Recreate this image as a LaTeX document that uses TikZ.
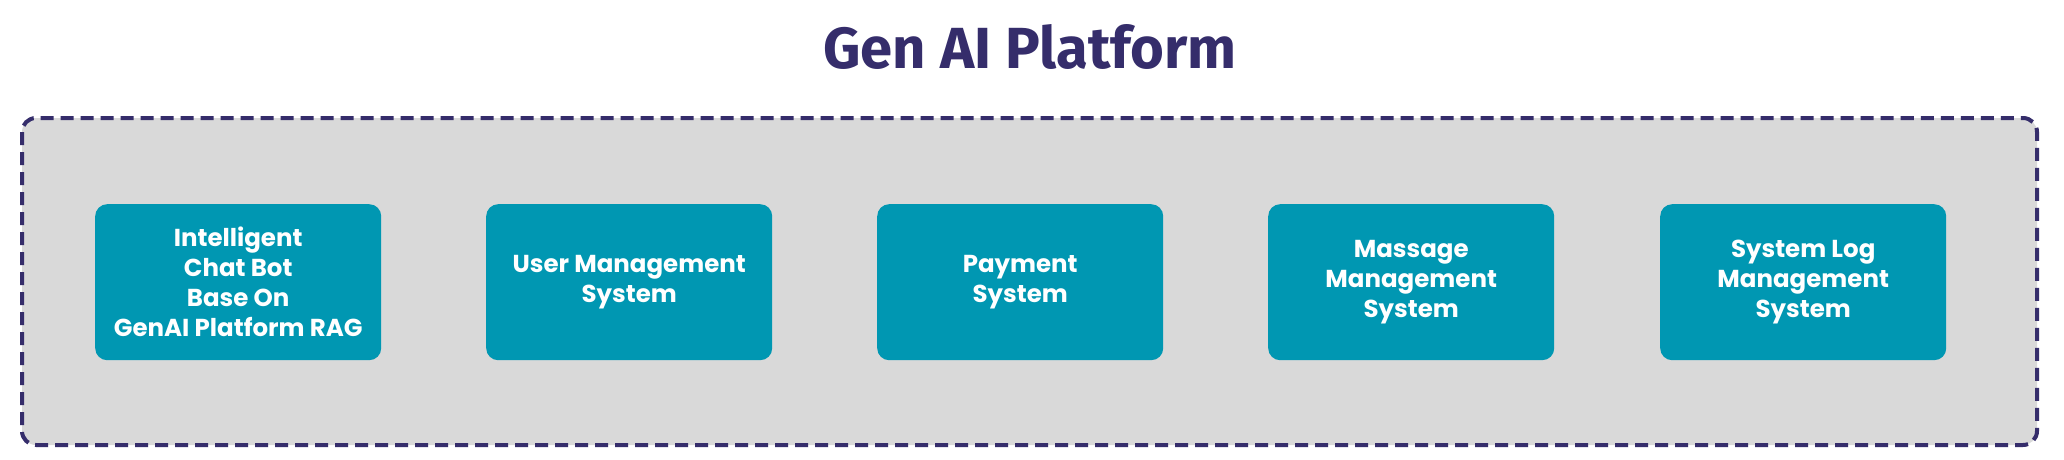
\documentclass[tikz,border=0pt]{standalone}
\usepackage{fontspec}
\newfontfamily\titlefont{Fira Sans}
\newfontfamily\boxfont{Poppins}
\definecolor{purp}{HTML}{352D6B}
\definecolor{teal}{HTML}{0097B2}
\definecolor{panel}{HTML}{D9D9D9}
\begin{document}
\begin{tikzpicture}[x=1pt,y=-1pt,
  sysbox/.style={fill=teal, rounded corners=12pt, minimum width=286pt, minimum height=156pt, inner sep=0pt,
     text=white, align=center, font=\boxfont\bfseries\fontsize{24.5}{30}\selectfont, anchor=north west},
  panelbox/.style={fill=panel, draw=purp, line width=4pt, dash pattern=on 13pt off 7pt, rounded corners=14pt}]
\useasboundingbox (0,0) rectangle (2064,460);
\fill[white] (0,0) rectangle (2064,460);
\node[font=\titlefont\bfseries\fontsize{58}{64}\selectfont, text=purp, anchor=base, inner sep=0pt] (title) at (1030,68) {Gen AI Platform};
\draw[panelbox] (22,118) rectangle (2037,445);
\node[sysbox] (b1) at (95,204) {Intelligent\\Chat Bot\\Base On\\GenAI Platform RAG};
\node[sysbox] (b2) at (486,204) {User Management\\System};
\node[sysbox] (b3) at (877,204) {Payment\\System};
\node[sysbox] (b4) at (1268,204) {Massage\\Management\\System};
\node[sysbox] (b5) at (1660,204) {System Log\\Management\\System};
\end{tikzpicture}
\end{document}
